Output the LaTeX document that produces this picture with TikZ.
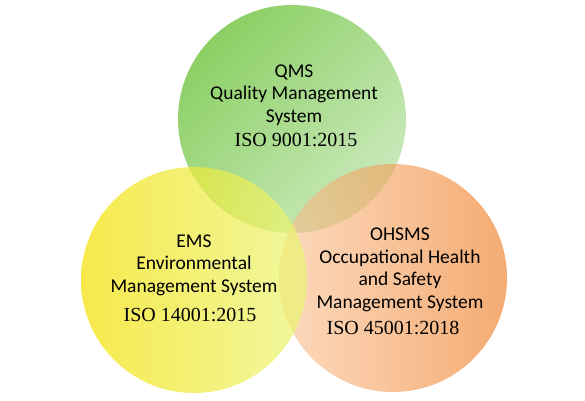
\documentclass[tikz,border=0pt]{standalone}
\usepackage{fontspec}
\newfontfamily\namefont{Carlito}
\newfontfamily\isofont{Liberation Serif}
\usepackage{xcolor}
\definecolor{qmsdark}{RGB}{140,207,100}
\definecolor{qmslight}{RGB}{202,233,188}
\definecolor{emsdark}{RGB}{244,224,0}
\definecolor{emslight}{RGB}{234,245,119}
\definecolor{ohsmslight}{RGB}{250,193,147}
\definecolor{ohsmsdark}{RGB}{237,115,20}
\tikzset{
  setname/.style={align=center, text=black, font=\namefont\fontsize{19.5}{22.5}\selectfont},
  setiso/.style={text=black, font=\isofont\fontsize{20}{24}\selectfont}
}

\begin{document}
\begin{tikzpicture}[x=1pt, y=-1pt] %three management systems
\useasboundingbox (0,0) rectangle (585,400);
\path[top color=qmsdark, bottom color=qmslight, shading angle=45] (292,119) circle [radius=114pt];
\path[left color=ohsmslight, right color=ohsmsdark, fill opacity=0.6] (393,278) circle [radius=114pt];
\path[left color=emsdark, right color=emslight, fill opacity=0.7] (194,280) circle [radius=113pt];
\node[setname] (qmsname) at (294,95) {QMS\\Quality Management\\System};
\node[setiso] (qmsiso) at (296,140) {ISO 9001:2015};
\node[setname] (emsname) at (194,265) {EMS\\Environmental\\Management System};
\node[setiso] (emsiso) at (190,315) {ISO 14001:2015};
\node[setname] (ohsmsname) at (400,270) {OHSMS\\Occupational Health\\and Safety\\Management System};
\node[setiso] (ohsmsiso) at (393,328) {ISO 45001:2018};
\end{tikzpicture}
\end{document}
